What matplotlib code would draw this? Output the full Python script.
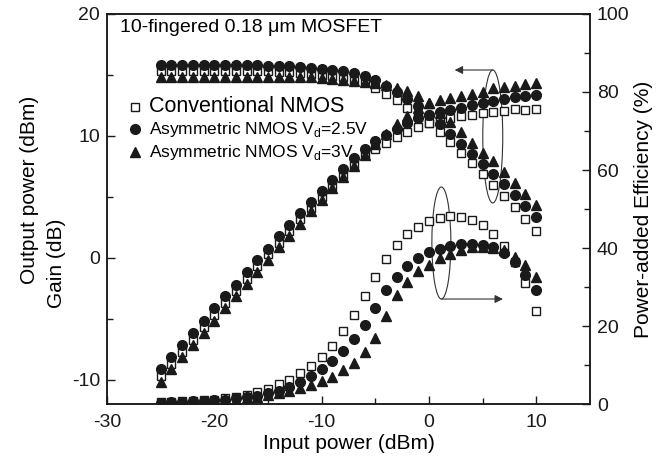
import matplotlib.pyplot as plt
from matplotlib.patches import Ellipse
from matplotlib.lines import Line2D

plt.rcParams['font.family'] = ['Liberation Sans', 'DejaVu Sans']
plt.rcParams['axes.unicode_minus'] = False

# input power, dBm (1 dB steps)
pin = list(range(-25, 11))

# output power (dBm)
pout_conv = [-9.7, -8.7, -7.7, -6.7, -5.7, -4.7, -3.7, -2.7, -1.7, -0.7, 0.3, 1.25,
             2.2, 3.15, 4.1, 5.0, 5.9, 6.8, 7.6, 8.4, 8.95, 9.4, 9.9, 10.3, 10.7, 11.05,
             11.35, 11.5, 11.6, 11.75, 11.85, 11.97, 12.07, 12.2, 12.15, 12.2]
pout_25 = [-9.15, -8.15, -7.15, -6.15, -5.15, -4.15, -3.15, -2.2, -1.2, -0.2, 0.75, 1.75,
           2.7, 3.65, 4.6, 5.5, 6.4, 7.3, 8.15, 8.9, 9.55, 10.1, 10.6, 11.05, 11.45, 11.75,
           11.95, 12.15, 12.3, 12.5, 12.7, 12.85, 13.05, 13.15, 13.27, 13.37]
pout_3 = [-10.15, -9.15, -8.15, -7.15, -6.15, -5.15, -4.15, -3.15, -2.15, -1.15, -0.15, 0.85,
          1.8, 2.8, 3.8, 4.75, 5.7, 6.6, 7.5, 8.4, 9.3, 10.15, 10.95, 11.65, 12.3, 12.7,
          12.9, 13.1, 13.3, 13.4, 13.6, 13.9, 14.0, 14.1, 14.23, 14.33]

# gain (dB)
gain_conv = [15.3, 15.3, 15.3, 15.3, 15.3, 15.3, 15.3, 15.3, 15.3, 15.3, 15.3, 15.25,
             15.2, 15.15, 15.1, 15.0, 14.9, 14.8, 14.6, 14.4, 13.95, 13.4, 12.9, 12.3, 11.7, 11.05,
             10.35, 9.5, 8.6, 7.75, 6.85, 5.97, 5.07, 4.2, 3.16, 2.2]
gain_25 = [15.85, 15.85, 15.85, 15.85, 15.85, 15.85, 15.85, 15.8, 15.8, 15.8, 15.75, 15.75,
           15.7, 15.65, 15.6, 15.5, 15.4, 15.3, 15.15, 14.9, 14.55, 14.1, 13.6, 13.05, 12.45, 11.75,
           10.95, 10.15, 9.3, 8.5, 7.7, 6.85, 6.05, 5.15, 4.27, 3.37]
gain_3 = [14.85, 14.85, 14.85, 14.85, 14.85, 14.85, 14.85, 14.85, 14.85, 14.85, 14.85, 14.85,
          14.8, 14.8, 14.8, 14.75, 14.7, 14.6, 14.5, 14.4, 14.3, 14.15, 13.95, 13.65, 13.3, 12.7,
          11.9, 11.1, 10.3, 9.4, 8.6, 7.9, 7.0, 6.1, 5.23, 4.33]

# power-added efficiency (%)
pae_conv = [0.5, 0.6, 0.7, 0.8, 1.0, 1.2, 1.5, 1.9, 2.3, 3.0, 4.0, 5.1,
            6.3, 7.9, 9.8, 12.1, 15.0, 18.7, 22.8, 27.7, 32.6, 37.3, 40.9, 43.5, 45.5, 47.0,
            47.8, 48.2, 48.0, 47.3, 45.9, 43.6, 40.5, 36.5, 31.1, 23.9]
pae_25 = [0.4, 0.5, 0.6, 0.7, 0.8, 1.0, 1.2, 1.5, 1.8, 2.2, 2.8, 3.5,
          4.4, 5.7, 7.2, 8.9, 11.0, 13.6, 16.6, 20.4, 24.7, 29.2, 32.6, 35.4, 37.4, 38.9,
          39.7, 40.5, 41.0, 41.0, 40.8, 40.2, 38.8, 36.5, 33.1, 29.2]
pae_3 = [0.3, 0.4, 0.5, 0.6, 0.7, 0.8, 1.0, 1.2, 1.5, 1.8, 2.3, 2.9,
         3.5, 4.1, 4.8, 5.9, 7.0, 8.7, 10.6, 13.4, 16.9, 22.7, 27.9, 31.4, 34.1, 35.6,
         37.4, 38.5, 39.5, 40.2, 40.2, 39.9, 39.5, 37.6, 35.6, 32.5]

labels = ['Conventional NMOS', 'Asymmetric NMOS V$_\\mathregular{d}$=2.5V',
          'Asymmetric NMOS V$_\\mathregular{d}$=3V']

ink = '#1a1a1a'
sq = dict(marker='s', mfc='white', mec=ink, ms=6, mew=1.0, ls='none')
ci = dict(marker='o', mfc=ink, mec=ink, ms=7, ls='none')
tr = dict(marker='^', mfc=ink, mec=ink, ms=7.5, ls='none')

fig = plt.figure(figsize=(6.65, 4.63), dpi=100)
ax = fig.add_axes([0.161, 0.127, 0.726, 0.843])
ax2 = ax.twinx()

for y, st in [(pout_conv, sq), (gain_conv, sq), (pout_25, ci), (gain_25, ci),
              (pout_3, tr), (gain_3, tr)]:
    ax.plot(pin, y, **st)
for y, st in [(pae_conv, sq), (pae_25, ci), (pae_3, tr)]:
    ax2.plot(pin, y, **st)

ax.set_xlim(-30, 15)
ax.set_ylim(-12, 20)
ax2.set_ylim(0, 100)
ax.set_xticks([-30, -20, -10, 0, 10])
ax.set_xticks([-25, -15, -5, 5], minor=True)
ax.set_yticks([-10, 0, 10, 20])
ax.set_yticks([-5, 5, 15], minor=True)
ax2.set_yticks([0, 20, 40, 60, 80, 100])
ax2.set_yticks([10, 30, 50, 70, 90], minor=True)

for a in (ax, ax2):
    a.tick_params(which='both', direction='in', labelsize=14, width=1, colors=ink)
    a.tick_params(which='major', length=6)
    a.tick_params(which='minor', length=4)
    for s in a.spines.values():
        s.set_linewidth(1.1)
        s.set_color(ink)
ax.tick_params(axis='x', pad=7)
ax.tick_params(axis='y', pad=5)
ax2.tick_params(axis='y', pad=5)

ax.set_xlabel('Input power (dBm)', fontsize=15, labelpad=2)
fig.text(0.045, 0.59, 'Output power (dBm)', rotation=90, ha='center', va='center', fontsize=15)
fig.text(0.085, 0.432, 'Gain (dB)', rotation=90, ha='center', va='center', fontsize=15)
ax2.set_ylabel('Power-added Efficiency (%)', fontsize=15, labelpad=3)

ax.text(-28.8, 18.85, '10-fingered 0.18 \u03bcm MOSFET', fontsize=14, va='center')

handles = [Line2D([], [], **sq), Line2D([], [], **ci), Line2D([], [], **tr)]
handles[0].set_markersize(5.5)
leg = ax.legend(handles, labels, loc='upper left', bbox_to_anchor=(0.035, 0.805),
                frameon=False, handlelength=0.8, handletextpad=0.6, labelspacing=0.25,
                borderaxespad=0)
for i, t in enumerate(leg.get_texts()):
    t.set_fontsize(15.5 if i == 0 else 12.5)

# callouts: ellipse + arrow pointing to the relevant axis
ax.add_patch(Ellipse((5.95, 9.95), 1.86, 10.9, fill=False, lw=0.8, ec='#333'))
ax.annotate('', xy=(2.4, 15.4), xytext=(5.95, 15.4),
            arrowprops=dict(arrowstyle='-|>', lw=0.8, color='#333', mutation_scale=12,
                            shrinkA=0, shrinkB=0))
ax2.add_patch(Ellipse((1.16, 41.3), 1.77, 28.7, fill=False, lw=0.8, ec='#333'))
ax2.annotate('', xy=(6.9, 26.95), xytext=(1.16, 26.95),
             arrowprops=dict(arrowstyle='-|>', lw=0.8, color='#333', mutation_scale=12,
                             shrinkA=0, shrinkB=0))

fig.savefig('out.png', dpi=100)
